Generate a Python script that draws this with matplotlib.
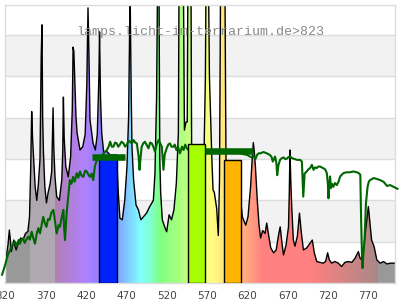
import numpy as np
import matplotlib

matplotlib.use("Agg")

import matplotlib.pyplot as plt
from matplotlib.patches import Polygon
from matplotlib.colors import to_rgb

# lamp spectrum (black outline), nm / relative value
spec_nm = [320, 322, 323.5, 325, 326.5, 327.5, 329, 330.5, 332, 333.5, 335, 336.5, 339, 342, 345, 348, 350,
           351.5, 352.7, 353.8, 355, 357, 359, 361, 363, 364.5, 365.5, 366.3, 367.3, 369, 371, 373, 375.5,
           377.5, 378.5, 379.2, 380.2, 381.6, 383.7, 387, 390, 391.2, 392, 393, 395, 398, 401, 403, 404,
           405, 406, 407.6, 409, 412.6, 416, 419, 421, 422.5, 423.7, 425, 428.7, 431.6, 434, 436, 436.8,
           438, 439.5, 442, 445, 450, 455, 458, 460, 462, 465, 468, 470.8, 472.8, 474, 474.8, 475.8, 477,
           479, 482, 485, 488, 491, 495, 499, 503.5, 505.5, 507.5, 509, 510.3, 511.5, 512.6, 514.6, 518,
           520, 523, 526, 529, 532, 534.5, 535.5, 540.5, 542, 544, 545.5, 546.5, 550, 551, 555, 560, 566,
           568, 569, 571.5, 573, 576, 577.5, 579, 582, 584, 585.5, 587, 592, 593.5, 600, 605, 609, 611.8,
           613.8, 618, 620.8, 624, 626, 627.4, 628.5, 630, 632.3, 634.5, 636.4, 639, 642, 644, 646, 649,
           652.5, 655.7, 658.6, 660.7, 662.7, 664.8, 668, 671, 672, 672.8, 673.8, 675, 677, 679, 682,
           684.6, 687, 689.5, 693.6, 697.6, 700.5, 703, 706, 710, 714, 717, 719.5, 721.6, 724.5, 728.5,
           732.7, 736.8, 741, 745, 749.5, 753.5, 757.6, 759.7, 762, 764.5, 767, 770, 772, 774, 777, 780.5,
           784.6, 788.8, 793, 797, 803]
spec_val = [0.5, 0.75, 0.95, 1.28, 1.0, 0.76, 0.9, 1.04, 0.9, 0.8, 0.9, 0.97, 1.09, 1.05, 1.2, 1.25, 1.6,
            2.8, 4.15, 3.5, 3.06, 2.33, 2.0, 2.4, 3.0, 5.5, 6.25, 4.0, 3.15, 2.33, 1.94, 2.18, 2.4,
            2.7, 3.6, 4.24, 3.2, 2.57, 2.09, 2.0, 2.5, 3.2, 4.5, 3.5, 2.82, 2.57, 3.06, 4.2, 5.71,
            5.6, 5.0, 4.03, 3.63, 3.22, 3.3, 3.6, 4.8, 6.66, 5.5, 3.95, 3.39, 3.22, 3.6, 5.0, 6.08,
            4.5, 3.63, 3.15, 3.2, 3.1, 3.1, 3.1, 2.2, 1.57, 1.53, 2.0, 2.82, 4.0, 6.0, 6.9, 5.0, 3.3,
            2.5, 1.89, 1.77, 1.53, 1.6, 1.69, 1.85, 2.0, 2.66, 4.5, 8, 8, 3.0, 2.17, 1.53, 1.33,
            1.24, 1.65, 1.53, 1.77, 2.42, 3.63, 8, 8, 3.7, 3.9, 3.9, 8, 8, 3.0, 2.6, 2.6, 2.8,
            5.0, 8, 8, 5.0, 3.0, 2.25, 2.2, 1.8, 1.15, 2.5, 8, 8, 3.0, 2.3, 2.3, 2.2, 2.0,
            1.6, 1.4, 1.6, 2.33, 3.0, 3.4, 3.2, 2.82, 2.0, 1.4, 1.09, 1.27, 1.2, 1.45, 1.2, 0.85,
            0.73, 0.8, 1.15, 1.36, 1.0, 0.68, 0.92, 1.36, 2.2, 3.22, 2.5, 1.85, 1.04, 0.89, 1.13,
            1.69, 1.2, 0.8, 0.85, 0.96, 1.04, 0.73, 0.52, 0.5, 0.48, 0.52, 0.73, 0.56, 0.48, 0.52,
            0.48, 0.4, 0.5, 0.52, 0.5, 0.6, 0.76, 0.6, 0.56, 0.89, 1.36, 1.85, 1.45, 1.04, 0.89, 0.56,
            0.48, 0.52, 0.46, 0.48, 0.48]

# reference curve (dark green)
ref_nm = [316, 320, 322, 324, 326, 328, 330, 332, 334, 336.5, 338, 340, 342, 344, 346, 348.6, 350.5,
          352.7, 354.5, 356.8, 359, 361, 363, 365, 367, 369, 371, 373, 375, 377, 379.6, 381.5, 383.7,
          386, 387.8, 390, 392, 393, 394, 396, 398, 400, 402, 404, 406, 408.5, 410.5, 412.6, 414.5,
          416.8, 419, 421, 423, 425, 427, 429, 431, 433, 436, 439, 442, 446, 448, 450, 452, 454, 456,
          458, 460, 462, 464, 466.6, 468.5, 470.7, 472.5, 474.5, 477, 479, 481, 483, 485, 486.4, 487.5,
          489, 491, 493, 495, 497.5, 499.5, 501.5, 503.5, 505.5, 507.5, 510, 512, 514, 515, 516, 517.5,
          520, 522, 524, 526, 528.5, 530, 532, 534, 536.5, 539, 541, 543, 545, 548, 552, 556, 560, 564,
          567, 569.5, 575, 580, 585, 590, 595, 600, 605, 610, 615, 620, 624, 627.7, 630, 632, 634, 636,
          640, 644, 648, 650, 651.5, 653, 654.4, 656, 657, 658.5, 660.5, 662.5, 664.8, 667, 669, 671,
          673, 675, 677, 679, 681.5, 685.5, 687.6, 688.5, 689.3, 690.2, 691, 693.6, 695.5, 697.7, 700,
          702, 704, 706, 708, 710, 712, 714, 716.5, 718.5, 719.8, 720.5, 721.5, 722.5, 723.7, 725,
          726.6, 728.5, 730.8, 733, 735, 737, 739, 743, 747, 751.6, 755.7, 758, 760, 761, 762.2, 762.8,
          763.8, 765, 766, 767, 769, 770.5, 772, 776.5, 780.5, 784.6, 788.8, 791, 793, 797, 801, 806]
ref_val = [0.2, 0.45, 0.6, 0.72, 0.8, 0.88, 0.95, 1.0, 0.9, 1.04, 0.95, 1.04, 1.08, 0.97, 1.05, 1.12, 1.05,
           1.24, 1.1, 0.95, 1.2, 1.33, 1.2, 1.4, 1.6, 1.45, 1.36, 1.55, 1.53, 1.7, 1.77, 1.5, 1.2,
           1.4, 1.36, 1.6, 1.77, 1.3, 1.04, 1.69, 2.1, 2.49, 2.4, 2.57, 2.45, 2.66, 2.55, 2.7, 2.6,
           2.57, 2.72, 2.7, 2.62, 2.57, 2.65, 2.49, 2.82, 2.95, 3.0, 3.05, 3.15, 3.22, 3.3, 3.42, 3.3, 3.3, 3.4,
           3.38, 3.3, 3.35, 3.42, 3.38, 3.3, 3.35, 3.45, 3.42, 3.38, 3.46, 3.4, 3.38, 3.1, 2.74, 3.0,
           3.3, 3.38, 3.42, 3.35, 3.26, 3.4, 3.38, 3.3, 3.18, 3.35, 3.46, 3.38, 3.3, 3.0, 2.74, 3.1,
           3.26, 3.35, 3.38, 3.3, 3.3, 3.35, 3.22, 3.3, 3.14, 3.3, 3.22, 3.35, 3.26, 3.2, 3.25, 3.2, 3.22, 3.2,
           3.22, 3.22, 3.2, 3.2, 3.18, 3.15, 3.2, 3.18, 3.15, 3.15, 3.12, 3.1, 3.05, 3.06, 3.0, 3.1, 3.14, 3.14,
           3.17, 3.14, 3.1, 3.05, 2.94, 3.0, 3.06, 2.9, 2.61, 2.85, 2.98, 3.02, 3.04, 3.0, 3.01, 3.05,
           3.06, 3.03, 3.01, 3.0, 2.98, 2.98, 2.94, 2.5, 2.09, 2.4, 2.65, 2.7, 2.75, 2.78, 2.86,
           2.74, 2.8, 2.78, 2.82, 2.82, 2.8, 2.78, 2.75, 2.66, 2.4, 2.05, 2.3, 2.58, 2.3, 2.4,
           2.33, 2.42, 2.37, 2.45, 2.58, 2.62, 2.66, 2.68, 2.68, 2.7, 2.68, 2.66, 2.62, 1.53, 0.6, 0.36,
           0.7, 0.97, 1.4, 1.93, 2.33, 2.45, 2.49, 2.54, 2.52, 2.49, 2.45, 2.4, 2.35, 2.37, 2.33, 2.28]

# coloured bars
bar_nm = [447.5, 557.3, 601.8]
bar_width = [22, 21, 20.7]
bar_val = [3.03, 3.36, 2.98]
bar_colors = ["#0022ff", "#a6ff00", "#ffb400"]

# thick averaged segments of the reference curve
seg_start = [427.5, 567.5]
seg_end = [468.5, 627.0]
seg_val = [3.04, 3.2]

tick_nm = [320, 370, 420, 470, 520, 570, 620, 670, 720, 770]

# pastel rainbow for the fill
stop_nm = [381.6, 400, 420, 440, 455, 470, 488, 500, 512, 535, 560, 575, 595, 615, 640, 700, 781.6]
stop_col = ["#b080b0", "#b080d8", "#b080ff", "#8c80ff", "#8099ff", "#80c4ff", "#80ffff", "#80ffd0",
            "#80ff80", "#a8ff80", "#e0ff80", "#ffff80", "#ffe080", "#ffb080", "#ff8080", "#ff8080",
            "#aa8888"]

XMIN, XMAX, YMAX = 320, 803, 6.73

fig = plt.figure(figsize=(4, 3), dpi=100)
ax = fig.add_axes([5.3 / 400, 17 / 300, 389.7 / 400, 278 / 300])

for lo in (1, 3, 5):
    ax.axhspan(lo, lo + 1, color="#f2f2f2", zorder=0, lw=0)
for g in range(1, 7):
    ax.axhline(g, color="#dcdcdc", lw=1, zorder=0.5)

# gradient fill clipped by spectrum
xs = np.linspace(XMIN, XMAX, 1500)
rgb = np.array([to_rgb(c) for c in stop_col])
img = np.zeros((1, len(xs), 3))
for k in range(3):
    img[0, :, k] = np.interp(xs, stop_nm, rgb[:, k])
img[0, xs < 351.5] = to_rgb("#999999")
img[0, (xs >= 351.5) & (xs < 381.6)] = to_rgb("#b0a8b0")
img[0, xs >= 781.6] = to_rgb("#999999")
im = ax.imshow(img, extent=(XMIN, XMAX, 0, YMAX), aspect="auto", interpolation="nearest", zorder=1)
verts = [(spec_nm[0], 0)] + list(zip(spec_nm, spec_val)) + [(spec_nm[-1], 0)]
poly = Polygon(verts, closed=True, facecolor="none", edgecolor="none")
ax.add_patch(poly)
im.set_clip_path(poly)

ax.plot(spec_nm, spec_val, color="black", lw=1, zorder=2)
ax.plot(ref_nm, ref_val, color="#006600", lw=1.5, zorder=3, clip_on=False)

ax.bar(bar_nm, bar_val, width=bar_width, color=bar_colors, edgecolor="black", lw=1, zorder=4)
ax.hlines(seg_val, seg_start, seg_end, color="#006600", lw=4.7, zorder=5)

ax.set_xlim(XMIN, XMAX)
ax.set_ylim(0, YMAX)
ax.set_xticks(tick_nm)
ax.set_xticklabels([str(t) for t in tick_nm])
ax.set_yticks([])
ax.tick_params(axis="x", length=0, pad=6, labelsize=7.5, labelcolor="#444444")
for s in ax.spines.values():
    s.set_color("#dcdcdc")
    s.set_linewidth(1)

fig.text(0.5, 1 - 31.7 / 300, "lamps.licht-im-terrarium.de>823", ha="center", va="center",
         family="Liberation Mono", fontsize=9.6, color="#8a8a8a")

fig.savefig("out.png", dpi=100)
